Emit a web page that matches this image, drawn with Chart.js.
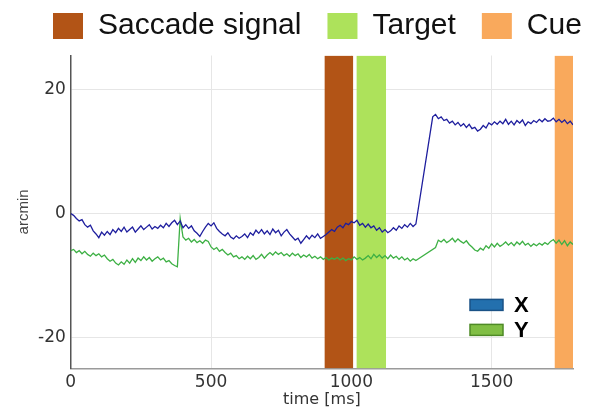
<!DOCTYPE html>
<html>
<head>
<meta charset="utf-8">
<script src="https://cdn.jsdelivr.net/npm/chart.js@4/dist/chart.umd.min.js"></script>
<style>
  html, body { margin: 0; padding: 0; background: #fff; }
  #wrap { width: 592px; height: 412px; }
</style>
</head>
<body>
<div id="wrap"><canvas id="eyeChart" width="592" height="412"></canvas></div>
<script>
// sample times [ms]
const timeMs = [
  0, 10, 20, 30, 40, 50, 60, 70, 80, 90, 100, 110, 120, 130, 140, 150, 160, 170, 180, 190,
  200, 210, 220, 230, 240, 250, 260, 270, 280, 290, 300, 310, 320, 330, 340, 350, 360, 370, 380, 390,
  400, 410, 420, 430, 440, 450, 460, 470, 480, 490, 500, 510, 520, 530, 540, 550, 560, 570, 580, 590,
  600, 610, 620, 630, 640, 650, 660, 670, 680, 690, 700, 710, 720, 730, 740, 750, 760, 770, 780, 790,
  800, 810, 820, 830, 840, 850, 860, 870, 880, 890, 900, 910, 920, 930, 940, 950, 960, 970, 980, 990,
  1000, 1010, 1020, 1030, 1040, 1050, 1060, 1070, 1080, 1090, 1100, 1110, 1120, 1130, 1140, 1150, 1160, 1170, 1180, 1190,
  1200, 1210, 1220, 1230, 1240, 1250, 1260, 1270, 1280, 1290, 1300, 1310, 1320, 1330, 1340, 1350, 1360, 1370, 1380, 1390,
  1400, 1410, 1420, 1430, 1440, 1450, 1460, 1470, 1480, 1490, 1500, 1510, 1520, 1530, 1540, 1550, 1560, 1570, 1580, 1590,
  1600, 1610, 1620, 1630, 1640, 1650, 1660, 1670, 1680, 1690, 1700, 1710, 1720, 1730, 1740, 1750, 1760, 1770, 1780, 1790
];

// horizontal eye position [arcmin]
const eyeX = [
  0, -0.3, -0.8, -1.2, -1.0, -1.8, -2.2, -1.9, -2.8, -3.3, -3.9, -3.0, -3.5, -2.9, -3.4, -2.6, -3.1, -2.4, -2.9, -2.2,
  -3.0, -2.6, -2.2, -3.0, -2.5, -2.0, -2.6, -2.2, -1.8, -2.5, -2.1, -2.4, -1.9, -2.3, -1.6, -2.1, -1.5, -1.1, -1.8, -1.2,
  -2.3, -1.8, -2.4, -2.0, -2.8, -3.2, -3.7, -2.9, -2.2, -1.6, -2.0, -1.5, -2.4, -2.9, -3.3, -3.6, -3.1, -3.8, -4.1, -3.6,
  -4.0, -3.7, -3.3, -3.9, -3.1, -3.5, -2.7, -3.2, -2.6, -3.3, -2.8, -3.4, -2.5, -3.1, -2.7, -3.6, -3.0, -2.6, -3.3, -3.8,
  -4.3, -4.0, -4.8, -4.2, -3.6, -4.1, -3.5, -3.9, -3.3, -4.0, -3.7, -3.4, -3.0, -2.6, -2.9, -2.2, -1.9, -2.3, -1.6, -1.8,
  -1.3, -1.5, -1.1, -1.9, -1.6, -2.2, -1.7, -2.3, -2.0, -2.7, -2.3, -3.0, -2.6, -3.1, -2.8, -2.3, -2.7, -2.0, -2.4, -1.8,
  -2.2, -1.6, -2.1, -1.7, null, null, null, null, null, 15.6, 16.0, 15.3, 15.6, 15.0, 15.2, 14.6, 14.9, 14.3, 14.7, 14.1,
  14.5, 13.9, 14.4, 13.7, 13.9, 13.3, 13.6, 14.2, 13.8, 14.6, 14.3, 14.8, 14.4, 14.9, 14.5, 15.2, 14.4, 14.9, 14.3, 15.0,
  14.6, 15.1, 14.2, 14.8, 14.5, 15.0, 14.7, 15.2, 14.8, 15.3, 14.9, 15.0, 15.4, 14.8, 15.2, 14.7, 15.1, 14.5, 14.9, 14.3
];

// vertical eye position [arcmin]
const eyeY = [
  -6.0, -5.8, -6.3, -6.0, -6.5, -6.1, -6.6, -6.9, -6.4, -6.8, -6.5, -7.0, -6.7, -7.3, -7.7, -7.4, -8.0, -8.3, -7.8, -8.2,
  -7.5, -8.0, -7.3, -7.9, -7.2, -7.6, -7.0, -7.5, -7.1, -7.7, -7.3, -7.0, -7.5, -7.2, -7.8, -7.6, -8.1, -8.4, -8.6, -0.8,
  -3.8, -4.3, -4.0, -4.6, -4.2, -4.7, -4.4, -4.8, -4.3, -4.5, -5.4, -5.8, -5.5, -6.1, -5.8, -6.3, -6.7, -6.4, -7.0, -6.8,
  -7.3, -7.0, -7.4, -6.9, -7.3, -6.8, -7.4, -7.1, -6.6, -7.2, -6.7, -6.3, -6.7, -6.2, -6.6, -6.3, -6.8, -6.5, -6.9, -6.4,
  -6.8, -6.5, -7.1, -6.7, -7.0, -6.6, -7.2, -6.9, -7.3, -7.0, -7.4, -7.1, -7.5, -7.2, -7.4, -7.1, -7.5, -7.2, -7.6, -7.3,
  -7.5, -7.0, -7.4, -7.1, -7.5, -7.2, -6.8, -7.3, -6.6, -7.1, -6.7, -7.2, -6.8, -7.3, -6.7, -7.2, -6.9, -7.4, -7.0, -7.5,
  -7.2, -7.7, -7.3, -7.6, null, null, null, null, null, null, -5.5, -4.3, -4.6, -4.2, -4.7, -4.4, -4.0, -4.6, -4.1, -4.5,
  -4.8, -4.4, -5.0, -5.4, -5.9, -6.1, -5.6, -5.9, -5.2, -5.6, -4.9, -5.4, -4.8, -5.3, -5.0, -4.6, -5.1, -4.7, -5.2, -4.6,
  -5.0, -4.5, -5.1, -4.8, -5.3, -4.9, -5.2, -4.8, -5.1, -4.7, -5.0, -4.5, -4.2, -4.8, -4.3, -5.0, -4.4, -5.2, -4.6, -5.0
];

// event windows [ms]
const eventNames = ['Saccade signal', 'Target', 'Cue'];
const eventStart = [904, 1018, 1724];
const eventEnd = [1007, 1124, 1790];
const eventColors = ['#B25416', '#ADE25B', '#F9A95C'];

const xTicks = [0, 500, 1000, 1500];
const yTicks = [-20, 0, 20];
const xRange = [0, 1790];
const yRange = [-25, 25.5];

const traceNames = ['X', 'Y'];
const traceColors = ['#1E1E9E', '#3DB044'];
const traceKeyFill = ['#2370AE', '#80BE44'];
const traceKeyBorder = ['#1A5286', '#4E8A26'];

const sansFont = '"Liberation Sans", Arial, sans-serif';
const tickFont = '"DejaVu Sans", sans-serif';

function toPoints(ts, vs) {
    return ts.map((t, i) => ({ x: t, y: vs[i] }));
}

// event bands as filled lines across the full height
const bandSets = eventNames.map((name, i) => ({
    label: name,
    data: [{ x: eventStart[i], y: yRange[1] }, { x: eventEnd[i], y: yRange[1] }],
    backgroundColor: eventColors[i],
    borderColor: eventColors[i],
    borderWidth: 0,
    pointRadius: 0,
    fill: 'start',
    order: 2
}));

const traceSets = [eyeX, eyeY].map((vals, i) => ({
    label: traceNames[i],
    data: toPoints(timeMs, vals),
    borderColor: traceColors[i],
    backgroundColor: traceColors[i],
    borderWidth: 1.3,
    pointRadius: 0,
    spanGaps: true,
    tension: 0,
    fill: false,
    order: 1
}));

// small X / Y key inside the plot, lower right
const traceKey = {
    id: 'traceKey',
    afterDatasetsDraw(chart) {
        const ctx = chart.ctx;
        const area = chart.chartArea;
        const x0 = area.right - 103;
        const y0 = area.bottom - 63.5;
        ctx.save();
        ctx.font = 'bold 22px ' + sansFont;
        ctx.textBaseline = 'middle';
        traceNames.forEach((name, i) => {
            const y = y0 + i * 25;
            ctx.fillStyle = traceKeyFill[i];
            ctx.fillRect(x0, y - 5.5, 33, 11);
            ctx.strokeStyle = traceKeyBorder[i];
            ctx.lineWidth = 1.5;
            ctx.strokeRect(x0, y - 5.5, 33, 11);
            ctx.fillStyle = '#000';
            ctx.fillText(name, x0 + 44, y + 1);
        });
        ctx.restore();
    }
};

// nudge the top legend to where the figure has it
const legendNudge = {
    id: 'legendNudge',
    afterUpdate(chart) {
        chart.legend.left += 27;
        chart.legend.right += 27;
        chart.legend.top -= 4.5;
    }
};

const ctx = document.getElementById('eyeChart').getContext('2d');
new Chart(ctx, {
    type: 'line',
    data: { datasets: [...traceSets, ...bandSets] },
    options: {
        responsive: false,
        animation: false,
        layout: { padding: { left: 0, right: 0, top: -10.5, bottom: 0 } },
        plugins: {
            filler: { drawTime: 'beforeDatasetsDraw' },
            legend: {
                position: 'top',
                align: 'start',
                labels: {
                    filter: (item) => eventNames.includes(item.text),
                    boxWidth: 30,
                    boxHeight: 26,
                    padding: 26,
                    color: '#111',
                    font: { family: sansFont, size: 30 }
                }
            },
            tooltip: { enabled: false }
        },
        scales: {
            x: {
                type: 'linear',
                min: xRange[0],
                max: xRange[1],
                afterBuildTicks: (axis) => { axis.ticks = xTicks.map(v => ({ value: v })); },
                afterFit: (axis) => { axis.paddingRight = 19; },
                grid: { color: '#e6e6e6', drawTicks: false },
                border: { display: true, color: '#9a9a9a', width: 1.5 },
                ticks: {
                    color: '#333',
                    padding: 4,
                    maxRotation: 0,
                    callback: (v) => String(v),
                    font: { family: tickFont, size: 17 }
                },
                title: {
                    display: true,
                    text: 'time [ms]',
                    color: '#333',
                    padding: { top: -7, bottom: 3 },
                    font: { family: tickFont, size: 16 }
                }
            },
            y: {
                min: yRange[0],
                max: yRange[1],
                afterBuildTicks: (axis) => { axis.ticks = yTicks.map(v => ({ value: v })); },
                grid: { color: '#e6e6e6', drawTicks: false },
                border: { display: true, color: '#555', width: 1.5 },
                ticks: {
                    color: '#333',
                    padding: 5,
                    font: { family: tickFont, size: 17 }
                },
                title: {
                    display: true,
                    text: 'arcmin',
                    color: '#444',
                    padding: { top: 15, bottom: 0 },
                    font: { family: sansFont, size: 15 }
                }
            }
        }
    },
    plugins: [traceKey, legendNudge]
});
</script>
</body>
</html>
